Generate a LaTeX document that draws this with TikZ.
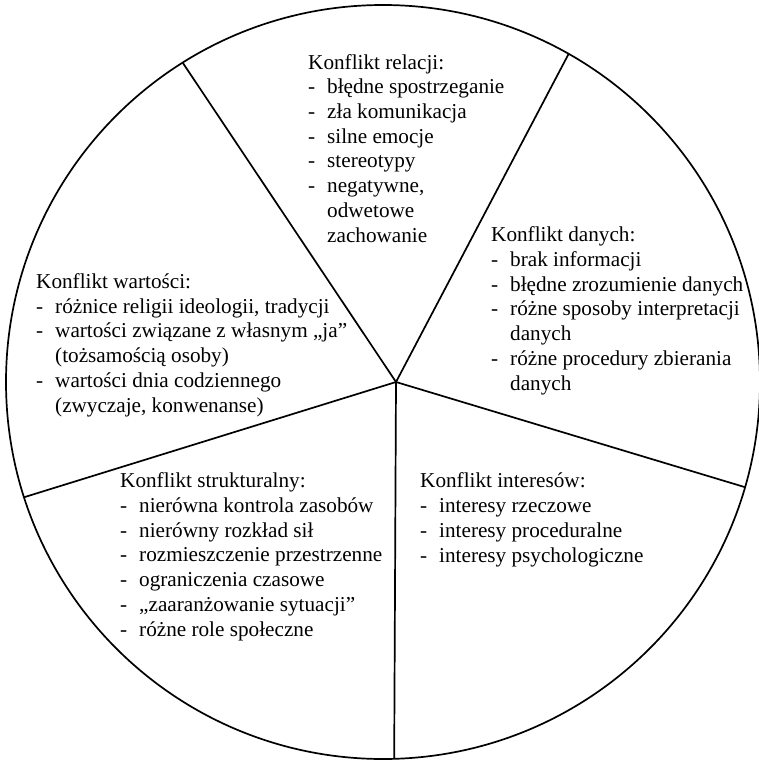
\documentclass[tikz,border=0pt]{standalone}
\usepackage{fontspec}
\setmainfont{Liberation Serif}
\usetikzlibrary{calc}

% bullet line with hanging dash, and continuation line
\newcommand{\itm}[1]{\makebox[19pt][l]{-}#1}
\newcommand{\cont}[1]{\hspace*{19pt}#1}

% blocks are placed by the baseline of their last line
\tikzset{
  sector/.style={line width=1.7pt, draw=black},
  block/.style={anchor=base west, inner sep=0pt, align=left,
    font=\fontsize{21.2}{24.7}\selectfont},
}

\begin{document}
\begin{tikzpicture}[x=1pt,y=-1pt]
  \useasboundingbox (0,0) rectangle (759,760);

  \coordinate (C) at (383,382);
  \coordinate (H) at (396,382);
  \coordinate (pUL) at ($(C)+(122.1:377pt)$);
  \coordinate (pUR) at ($(C)+(60.5:377pt)$);
  \coordinate (pR)  at ($(C)+(-16.2:377pt)$);
  \coordinate (pL)  at ($(C)+(197.8:377pt)$);
  \coordinate (pB)  at ($(C)+(-88.3:377pt)$);

  \draw[sector] (C) circle [radius=377pt];
  \draw[sector] (H) -- (pUL);
  \draw[sector] (H) -- (pUR);
  \draw[sector] (H) -- (pR);
  \draw[sector] (H) -- (pL);
  \draw[sector] (H) -- (pB);

  \node[block] (relacji) at (308,242) {Konflikt relacji:\\
    \itm{błędne spostrzeganie}\\
    \itm{zła komunikacja}\\
    \itm{silne emocje}\\
    \itm{stereotypy}\\
    \itm{negatywne,}\\
    \cont{odwetowe}\\
    \cont{zachowanie}};

  \node[block] (danych) at (491,390) {Konflikt danych:\\
    \itm{brak informacji}\\
    \itm{błędne zrozumienie danych}\\
    \itm{różne sposoby interpretacji}\\
    \cont{danych}\\
    \itm{różne procedury zbierania}\\
    \cont{danych}};

  \node[block] (wartosci) at (36,412) {Konflikt wartości:\\
    \itm{różnice religii ideologii, tradycji}\\
    \itm{wartości związane z własnym „ja”}\\
    \cont{(tożsamością osoby)}\\
    \itm{wartości dnia codziennego}\\
    \cont{(zwyczaje, konwenanse)}};

  \node[block] (strukt) at (120,636) {Konflikt strukturalny:\\
    \itm{nierówna kontrola zasobów}\\
    \itm{nierówny rozkład sił}\\
    \itm{rozmieszczenie przestrzenne}\\
    \itm{ograniczenia czasowe}\\
    \itm{„zaaranżowanie sytuacji”}\\
    \itm{różne role społeczne}};

  \node[block] (interesy) at (420,562) {Konflikt interesów:\\
    \itm{interesy rzeczowe}\\
    \itm{interesy proceduralne}\\
    \itm{interesy psychologiczne}};
\end{tikzpicture}
\end{document}
